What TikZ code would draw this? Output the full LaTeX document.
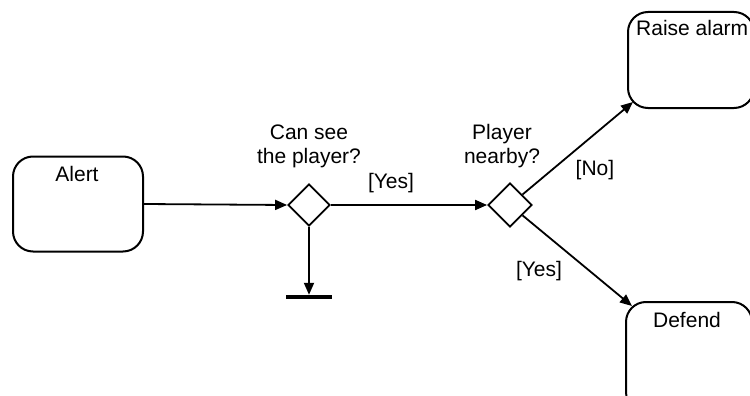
\documentclass[tikz,border=0pt]{standalone}
\usepackage{fontspec}
\setmainfont{Liberation Sans}
\usetikzlibrary{arrows.meta,shapes.geometric}
\tikzset{
  statebox/.style={draw, line width=2pt, rounded corners=20pt, inner sep=0pt},
  choice/.style={draw, line width=1.8pt, diamond, aspect=1, inner sep=0pt, minimum width=#1, minimum height=#1},
  flow/.style={line width=1.8pt, -{Triangle[length=12pt,width=10pt]}},
  txt/.style={font=\fontsize{21}{24}\selectfont, inner sep=0pt, align=center},
}
\begin{document}
\begin{tikzpicture}[x=1pt,y=-1pt]
\useasboundingbox (0,0) rectangle (750,396);
% state boxes
\node[statebox, minimum width=130pt, minimum height=95pt] (alert) at (78,204) {};
\node[txt, anchor=base] (alertt) at (77,181) {Alert};
\node[statebox, minimum width=126pt, minimum height=96pt] (raise) at (691,60) {};
\node[txt, anchor=base west] (raiset) at (636,36) {Raise alarm};
\node[statebox, minimum width=126pt, minimum height=110pt] (defend) at (689,357) {};
\node[txt, anchor=base] (defendt) at (687,327) {Defend};
% decisions
\node[choice=42pt] (d1) at (309,205) {};
\node[choice=44pt] (d2) at (510,205) {};
\node[txt] (q1) at (309,146) {Can see\\the player?};
\node[txt] (q2) at (502,146) {Player\\nearby?};
% final bar
\node[fill=black, minimum width=46pt, minimum height=4pt, inner sep=0pt] (bar) at (309,297) {};
% connector ends
\coordinate (raend) at (633,102);
\coordinate (defend_in) at (632,306);
% connectors
\draw[flow] (alert.east) -- (d1.west);
\draw[flow] (d1.east) -- (d2.west);
\draw[flow] (d1.south) -- (bar.north);
\draw[flow] (d2) -- (raend);
\draw[flow] (d2) -- (defend_in);
% guard labels
\node[txt] (yes1) at (391,183) {[Yes]};
\node[txt] (no) at (595,170) {[No]};
\node[txt] (yes2) at (539,271) {[Yes]};
\end{tikzpicture}
\end{document}
